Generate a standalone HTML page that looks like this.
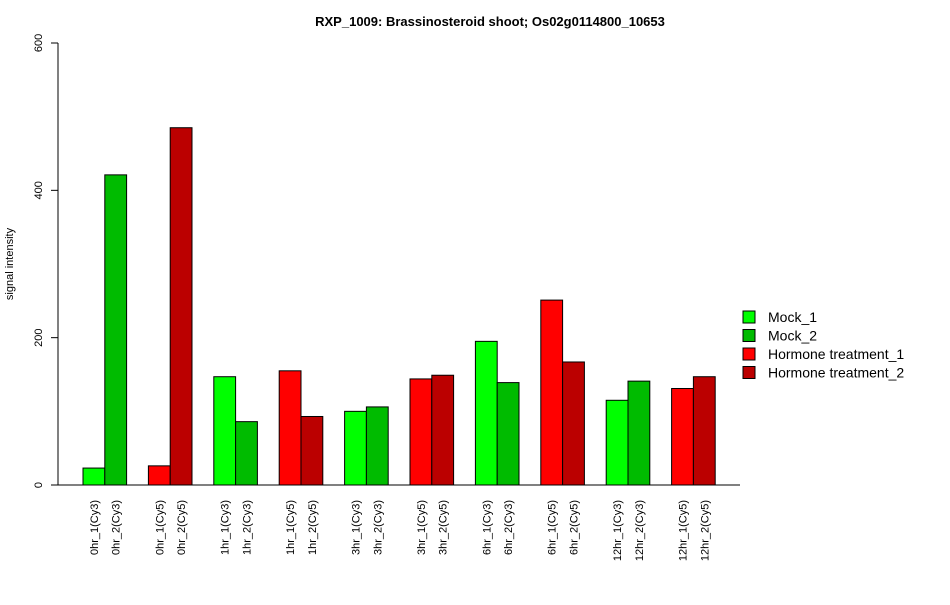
<!DOCTYPE html>
<html><head><meta charset="utf-8"><style>body{margin:0;background:#fff}svg{font-family:"Liberation Sans",sans-serif}</style></head>
<body>
<svg id="c" width="950" height="600">
<text x="490" y="26" text-anchor="middle" font-size="13" font-weight="bold">RXP_1009: Brassinosteroid shoot; Os02g0114800_10653</text>
<text transform="translate(13,264) rotate(-90)" text-anchor="middle" font-size="11">signal intensity</text>
<g id="bars"></g><g id="yaxis"></g><g id="xlabels"></g><g id="legend"></g>
</svg>
<script>
const categories=["0hr_1(Cy3)","0hr_2(Cy3)","0hr_1(Cy5)","0hr_2(Cy5)","1hr_1(Cy3)","1hr_2(Cy3)","1hr_1(Cy5)","1hr_2(Cy5)","3hr_1(Cy3)","3hr_2(Cy3)","3hr_1(Cy5)","3hr_2(Cy5)","6hr_1(Cy3)","6hr_2(Cy3)","6hr_1(Cy5)","6hr_2(Cy5)","12hr_1(Cy3)","12hr_2(Cy3)","12hr_1(Cy5)","12hr_2(Cy5)"];
const values=[23,421,26,485,147,86,155,93,100,106,144,149,195,139,251,167,115,141,131,147];
const yTicks=[0,200,400,600];
const legendLabels=["Mock_1","Mock_2","Hormone treatment_1","Hormone treatment_2"];
const colors=["#00ff00","#00bb00","#ff0000","#bb0000"];
const NS="http://www.w3.org/2000/svg";
const y0=485,yTop=43,yMax=600,bw=21.8,x0=61.2;
const y=v=>y0-(v/yMax)*(y0-yTop);
const xL=i=>x0+(Math.floor(i/2)*3+1+(i%2))*bw;
function mk(t,a,p){const e=document.createElementNS(NS,t);for(const k in a)e.setAttribute(k,a[k]);p.appendChild(e);return e;}
const bars=document.getElementById('bars'),ya=document.getElementById('yaxis'),xl=document.getElementById('xlabels'),lg=document.getElementById('legend');
mk('line',{x1:58,x2:740,y1:y0,y2:y0,stroke:'#000'},bars);
values.forEach((v,i)=>{const g=Math.floor(i/2);const ci=(g%2)*2+(i%2);
const r=mk('rect',{x:xL(i),y:y(v),width:bw,height:y0-y(v),fill:colors[ci],stroke:'#000','stroke-width':1},bars);


const t=mk('text',{transform:`translate(${xL(i)+bw/2+4},500) rotate(-90)`,'text-anchor':'end','font-size':11},xl);
t.textContent=categories[i];

});
mk('line',{x1:58,x2:58,y1:y(0),y2:y(600),stroke:'#000'},ya);
yTicks.forEach(v=>{mk('line',{x1:51,x2:58,y1:y(v),y2:y(v),stroke:'#000'},ya);
const t=mk('text',{transform:`translate(42,${y(v)}) rotate(-90)`,'text-anchor':'middle','font-size':11},ya);
t.textContent=v;

});
legendLabels.forEach((l,i)=>{const yy=317+i*18.5;
const r=mk('rect',{x:743,y:yy-6,width:12,height:12,fill:colors[i],stroke:'#000'},lg);


const t=mk('text',{x:768,y:yy+5,'font-size':14},lg);
t.textContent=l;

});
</script>
</body></html>
